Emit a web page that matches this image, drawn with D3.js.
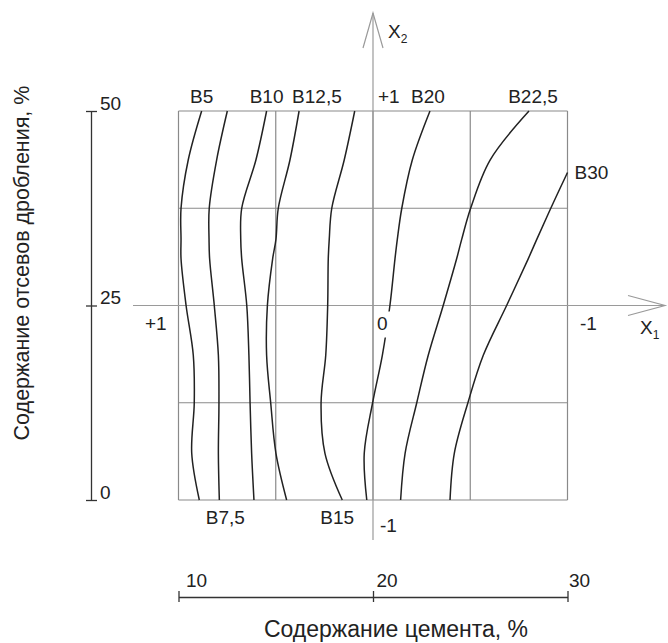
<!DOCTYPE html>
<html>
<head>
<meta charset="utf-8">
<script src="https://cdn.jsdelivr.net/npm/d3@7"></script>
<style>
  html, body { margin: 0; padding: 0; background: #fff; }
  svg { display: block; }
  text { font-family: "Liberation Sans", Arial, sans-serif; fill: #222; }
</style>
</head>
<body>
<div id="chart"></div>
<script>
// ---- data ----
const cementTicks = [10, 20, 30];
const screeningTicks = [0, 25, 50];
const gridCement = [10, 15, 20, 25, 30];
const gridScreening = [0, 12.5, 25, 37.5, 50];
const curveNames = ["B5", "B7,5", "B10", "B12,5", "B15", "B20", "B22,5", "B30"];

// screenings content (%) at which each curve was read
const screenLevels = [50, 43.7, 37.5, 33.5, 31, 25, 18.6, 12.5, 6, 0];
const screenLevelsB30 = [42.1, 37.5, 33.5, 31, 25, 18.6, 12.5, 6, 0];

// cement content (%) of each strength curve at those levels
const cementB5    = [11.19, 10.50, 10.13, 10.13, 10.13, 10.39, 10.76, 10.81, 10.68, 11.07];
const cementB7_5  = [12.51, 11.96, 11.58, 11.57, 11.60, 11.84, 12.05, 12.08, 12.05, 12.10];
const cementB10   = [14.53, 13.98, 13.25, 13.20, 13.25, 13.51, 13.62, 13.68, 13.76, 13.88];
const cementB12_5 = [16.20, 15.73, 15.13, 15.01, 14.84, 14.57, 14.53, 14.74, 15.01, 15.56];
const cementB15   = [19.06, 18.52, 17.88, 17.75, 17.70, 17.67, 17.57, 17.33, 17.53, 18.42];
const cementB20   = [22.93, 22.02, 21.48, 21.25, 21.13, 20.87, 20.48, 19.98, 19.55, 19.68];
const cementB22_5 = [28.02, 26.02, 25.02, 24.56, 24.30, 23.61, 22.84, 22.25, 21.65, 21.42];
const cementB30   = [30.00, 29.14, 28.42, 27.98, 26.87, 25.67, 24.88, 24.18, 23.96];

const x1Labels = ["+1", "0", "-1"];
const x2Labels = ["+1", "0", "-1"];

// ---- build ----
const W = 668, H = 643;
const svg = d3.select("#chart").append("svg").attr("width", W).attr("height", H);

const x = d3.scaleLinear().domain([10, 30]).range([178.5, 567.5]);
const y = d3.scaleLinear().domain([0, 50]).range([500, 111]);

const gridColor = "#8a8a8a";
const axisColor = "#9a9a9a";
const inkColor = "#222";

// grid
svg.append("g").selectAll("line").data(gridCement).join("line")
  .attr("x1", d => x(d)).attr("x2", d => x(d))
  .attr("y1", y(0)).attr("y2", y(50))
  .attr("stroke", gridColor).attr("stroke-width", 1.2);
svg.append("g").selectAll("line").data(gridScreening).join("line")
  .attr("y1", d => y(d)).attr("y2", d => y(d))
  .attr("x1", x(10)).attr("x2", x(30))
  .attr("stroke", gridColor).attr("stroke-width", 1.2);

// coded axes X1 / X2
const cx = x(20), cy = y(25);
svg.append("line").attr("x1", 133).attr("x2", 665).attr("y1", cy).attr("y2", cy)
  .attr("stroke", axisColor).attr("stroke-width", 1.2);
svg.append("polyline").attr("points", `628,${cy-10} 665,${cy} 628,${cy+10}`)
  .attr("fill", "none").attr("stroke", axisColor).attr("stroke-width", 1.2);
svg.append("line").attr("x1", cx).attr("x2", cx).attr("y1", 13).attr("y2", 540)
  .attr("stroke", axisColor).attr("stroke-width", 1.2);
svg.append("polyline").attr("points", `${cx-10},48 ${cx},13 ${cx+10},48`)
  .attr("fill", "none").attr("stroke", axisColor).attr("stroke-width", 1.2);

// curves
const seriesCement = [cementB5, cementB7_5, cementB10, cementB12_5, cementB15, cementB20, cementB22_5, cementB30];
const curves = curveNames.map((name, i) => {
  const lev = name === "B30" ? screenLevelsB30 : screenLevels;
  return { name, pts: seriesCement[i].map((c, j) => [c, lev[j]]) };
});
const line = d3.line().x(d => x(d[0])).y(d => y(d[1])).curve(d3.curveCatmullRom.alpha(0.5));
svg.append("g").selectAll("path").data(curves).join("path")
  .attr("d", d => line(d.pts))
  .attr("fill", "none").attr("stroke", inkColor).attr("stroke-width", 1.5);

// coded labels
const fs = 19;
svg.append("rect").attr("x", cx + 3).attr("y", cy + 6).attr("width", 16).attr("height", 26).attr("fill", "#fff");
svg.append("text").attr("x", 145).attr("y", cy + 24).attr("font-size", fs).text(x1Labels[0]);
svg.append("text").attr("x", cx + 4).attr("y", cy + 24).attr("font-size", fs).text(x1Labels[1]);
svg.append("text").attr("x", 580).attr("y", cy + 24).attr("font-size", fs).text(x1Labels[2]);
svg.append("text").attr("x", cx + 5).attr("y", y(50) - 8).attr("font-size", fs).text(x2Labels[0]);
svg.append("text").attr("x", cx + 7).attr("y", y(0) + 32).attr("font-size", fs).text(x2Labels[2]);

// axis names
const tx1 = svg.append("text").attr("x", 640).attr("y", cy + 28).attr("font-size", 19);
tx1.append("tspan").text("X");
tx1.append("tspan").attr("font-size", 12).attr("dy", 5).text("1");
const tx2 = svg.append("text").attr("x", cx + 15).attr("y", 38).attr("font-size", 19);
tx2.append("tspan").text("X");
tx2.append("tspan").attr("font-size", 12).attr("dy", 5).text("2");

// curve labels
const byName = Object.fromEntries(curves.map(c => [c.name, c.pts]));
const topX = n => byName[n][0][0];
const botX = n => byName[n][byName[n].length - 1][0];
svg.append("text").attr("x", x(topX("B5"))).attr("y", y(50) - 8).attr("text-anchor", "middle").attr("font-size", fs).text("B5");
svg.append("text").attr("x", x(topX("B10"))).attr("y", y(50) - 8).attr("text-anchor", "middle").attr("font-size", fs).text("B10");
svg.append("text").attr("x", x(topX("B12,5")) - 7).attr("y", y(50) - 8).attr("font-size", fs).text("B12,5");
svg.append("text").attr("x", x(topX("B20")) - 2).attr("y", y(50) - 8).attr("text-anchor", "middle").attr("font-size", fs).text("B20");
svg.append("text").attr("x", x(topX("B22,5")) + 4).attr("y", y(50) - 8).attr("text-anchor", "middle").attr("font-size", fs).text("B22,5");
svg.append("text").attr("x", x(30) + 7).attr("y", y(byName["B30"][0][1]) + 7).attr("font-size", fs).text("B30");
svg.append("text").attr("x", x(botX("B7,5")) + 6).attr("y", y(0) + 24).attr("text-anchor", "middle").attr("font-size", fs).text("B7,5");
svg.append("text").attr("x", x(botX("B15")) - 5).attr("y", y(0) + 24).attr("text-anchor", "middle").attr("font-size", fs).text("B15");

// left natural scale (screenings)
const gy = svg.append("g").attr("transform", "translate(91,0)")
  .call(d3.axisRight(y).tickValues(screeningTicks).tickSize(0).tickFormat(d3.format("d")));
gy.select(".domain").attr("stroke", "#333").attr("stroke-width", 1.3);
gy.selectAll(".tick line").attr("x1", -5).attr("x2", 6).attr("stroke", "#333").attr("stroke-width", 1.3);
gy.selectAll(".tick text").attr("x", 9).attr("dy", "-0.1em").attr("font-size", fs)
  .attr("font-family", "Liberation Sans, Arial, sans-serif").attr("fill", inkColor);

// bottom natural scale (cement)
const tickOffsets = [7, 3, 1];
const gx = svg.append("g").attr("transform", "translate(0,597)")
  .call(d3.axisBottom(x).tickValues(cementTicks).tickSize(0).tickFormat(d3.format("d")));
gx.select(".domain").attr("stroke", "#333").attr("stroke-width", 1.3);
gx.selectAll(".tick line").attr("y1", -6).attr("y2", 5).attr("stroke", "#333").attr("stroke-width", 1.3);
gx.selectAll(".tick text").attr("y", -10).attr("dy", 0).attr("x", (d, i) => tickOffsets[i]).attr("text-anchor", "start").attr("font-size", fs)
  .attr("font-family", "Liberation Sans, Arial, sans-serif").attr("fill", inkColor);

// titles
svg.append("text").attr("x", 396).attr("y", 637).attr("text-anchor", "middle").attr("font-size", 23)
  .text("Содержание цемента, %");
svg.append("text").attr("transform", "translate(29,263) rotate(-90)").attr("text-anchor", "middle").attr("font-size", 21.5)
  .text("Содержание отсевов дробления, %");
</script>
</body>
</html>
